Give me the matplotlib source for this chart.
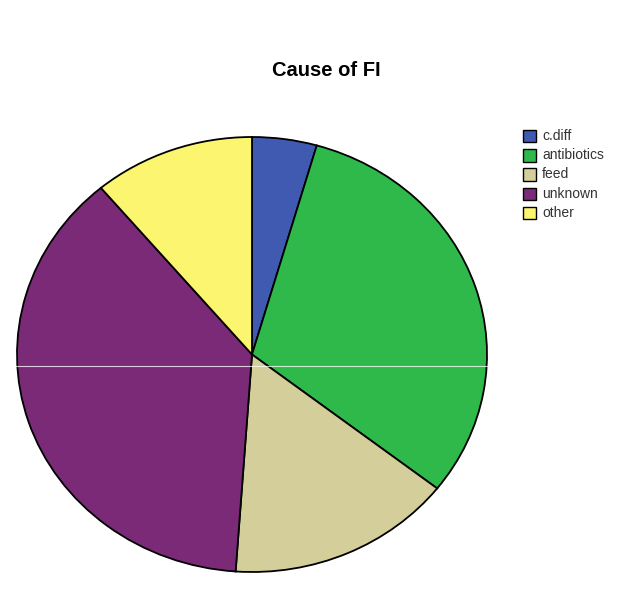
import matplotlib
matplotlib.use("Agg")
import matplotlib.pyplot as plt
from matplotlib.patches import Rectangle
from matplotlib.lines import Line2D

plt.rcParams['font.family'] = ['Liberation Sans', 'DejaVu Sans']

# Cause of FI counts
categories = ["c.diff", "antibiotics", "feed", "unknown", "other"]
counts = [2, 14, 7, 17, 5]
colors = ["#3f5ab0", "#30b94b", "#d4ce9a", "#7b2a78", "#fbf56f"]

W, H = 641, 597
fig = plt.figure(figsize=(W / 100, H / 100), dpi=100)
fig.patch.set_facecolor("white")

# Pie axes sized in pixels so the pie is a slightly wide ellipse
px_left, px_right, px_top, px_bottom = 17, 487, 137, 572
ax = fig.add_axes([px_left / W, (H - px_bottom) / H,
                   (px_right - px_left) / W, (px_bottom - px_top) / H])
ax.pie(counts, colors=colors, startangle=90, counterclock=False,
       wedgeprops=dict(edgecolor="black", linewidth=1.3))
ax.set_aspect("auto")
ax.set_xlim(-1.0, 1.0)
ax.set_ylim(-1.0, 1.0)
ax.axis("off")

# thin light rule across the chart
fig.add_artist(Line2D([16 / W, 500 / W], [(H - 366) / H] * 2,
                      transform=fig.transFigure, color="white",
                      linewidth=0.8, alpha=0.75))

fig.text(326 / W, (H - 70) / H, "Cause of FI", ha="center", va="center",
         fontsize=14.5, fontweight="bold", color="black")

# legend
sq = 12.5
x0 = 523
y0 = 136
step = 19.25
for i, (lab, col) in enumerate(zip(categories, colors)):
    yc = y0 + i * step
    fig.add_artist(Rectangle((x0 / W, (H - yc - sq / 2) / H), sq / W, sq / H,
                             transform=fig.transFigure, facecolor=col,
                             edgecolor="black", linewidth=1.0))
    fig.text(542 / W, (H - yc) / H, lab, ha="left", va="center",
             fontsize=10, color="#333333")

fig.savefig("out.png", dpi=100, facecolor="white")
